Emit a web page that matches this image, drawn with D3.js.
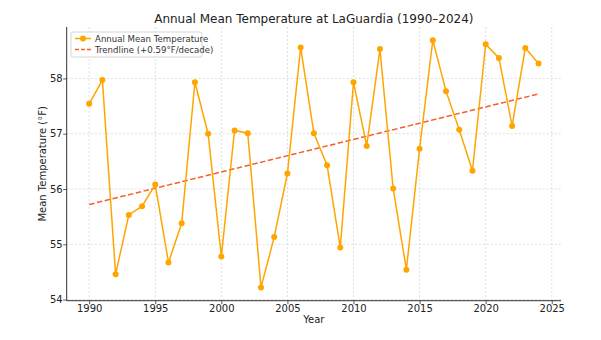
<!DOCTYPE html>
<html><head><meta charset="utf-8">
<script src="https://cdn.jsdelivr.net/npm/d3@7/dist/d3.min.js"></script>
<style>body{margin:0;background:#fff}svg{display:block}text{font-family:"DejaVu Sans",sans-serif}</style>
</head><body><svg id="c" width="601" height="340"></svg>
<script>
const years = d3.range(1990, 2025);
const temps = [57.54,57.97,54.46,55.53,55.69,56.08,54.67,55.38,57.93,57.00,
               54.78,57.06,57.01,54.22,55.13,56.28,58.56,57.01,56.43,54.94,
               57.93,56.78,58.53,56.01,54.54,56.73,58.69,57.77,57.07,56.33,
               58.62,58.37,57.14,58.55,58.27];
const trendStart = 55.72, trendEnd = 57.72;
const xTicks = [1990,1995,2000,2005,2010,2015,2020,2025];
const yTicks = [54,55,56,57,58];
const title = "Annual Mean Temperature at LaGuardia (1990–2024)";
const xLabel = "Year", yLabel = "Mean Temperature (°F)";
const legendLabels = ["Annual Mean Temperature","Trendline (+0.59°F/decade)"];

const svg = d3.select("#c");
const L=66.7, R=561, T=27, B=300.7;
const x = d3.scaleLinear().domain([1988.3,2025.7]).range([L,R]);
const y = d3.scaleLinear().domain([53.98,58.93]).range([B,T]);
const lineC="#ffa500", trendC="#f5602a";

const g = svg.append("g");
// grid
g.selectAll(".gx").data(xTicks).join("line").attr("x1",d=>x(d)).attr("x2",d=>x(d)).attr("y1",T).attr("y2",B)
 .attr("stroke","#d6d6d6").attr("stroke-width",0.8).attr("stroke-dasharray","2,2");
g.selectAll(".gy").data(yTicks).join("line").attr("y1",d=>y(d)).attr("y2",d=>y(d)).attr("x1",L).attr("x2",R)
 .attr("stroke","#d6d6d6").attr("stroke-width",0.8).attr("stroke-dasharray","2,2");

// axes
const xa = svg.append("g").attr("transform",`translate(0,${B})`).call(d3.axisBottom(x).tickValues(xTicks).tickFormat(d3.format("d")).tickSize(3.5).tickPadding(0.5));
const ya = svg.append("g").attr("transform",`translate(${L},0)`).call(d3.axisLeft(y).tickValues(yTicks).tickFormat(d3.format("d")).tickSize(3.5).tickPadding(0.5));
[xa,ya].forEach(a=>{a.select(".domain").remove();a.selectAll("line").attr("stroke","#333").attr("stroke-width",0.8);
 a.selectAll("text").attr("font-size","10px").attr("fill","#222").attr("font-family","DejaVu Sans");});
svg.append("line").attr("x1",L).attr("x2",R).attr("y1",B).attr("y2",B).attr("stroke","#333").attr("stroke-width",1);
svg.append("line").attr("x1",L).attr("x2",L).attr("y1",T).attr("y2",B).attr("stroke","#333").attr("stroke-width",1);

// trend
svg.append("line").attr("x1",x(1990)).attr("x2",x(2024)).attr("y1",y(trendStart)).attr("y2",y(trendEnd))
 .attr("stroke",trendC).attr("stroke-width",1.5).attr("stroke-dasharray","5.5,2.5");
// data line
const data = years.map((yr,i)=>({yr,v:temps[i]}));
svg.append("path").datum(data).attr("d",d3.line().x(d=>x(d.yr)).y(d=>y(d.v)))
 .attr("fill","none").attr("stroke",lineC).attr("stroke-width",1.5);
svg.selectAll(".pt").data(data).join("circle").attr("cx",d=>x(d.yr)).attr("cy",d=>y(d.v)).attr("r",3).attr("fill",lineC);

// title & labels
svg.append("text").attr("x",(L+R)/2).attr("y",23.3).attr("text-anchor","middle").attr("font-size","12px").attr("fill","#222").text(title);
svg.append("text").attr("x",(L+R)/2).attr("y",323).attr("text-anchor","middle").attr("font-size","10px").attr("fill","#222").text(xLabel);
svg.append("text").attr("transform",`translate(46,${(T+B)/2}) rotate(-90)`).attr("text-anchor","middle").attr("font-size","10px").attr("fill","#222").text(yLabel);

// legend
const lg = svg.append("g").attr("transform","translate(71,32)");
lg.append("rect").attr("width",131).attr("height",25).attr("rx",2).attr("fill","#fff").attr("fill-opacity",0.8).attr("stroke","#ccc").attr("stroke-width",0.8);
lg.append("line").attr("x1",4).attr("x2",20).attr("y1",6.5).attr("y2",6.5).attr("stroke",lineC).attr("stroke-width",1.5);
lg.append("circle").attr("cx",12).attr("cy",6.5).attr("r",3).attr("fill",lineC);
lg.append("line").attr("x1",4).attr("x2",20).attr("y1",17.5).attr("y2",17.5).attr("stroke",trendC).attr("stroke-width",1.5).attr("stroke-dasharray","4,2");
lg.selectAll(".lt").data(legendLabels).join("text").attr("x",24).attr("y",(d,i)=>9.5+i*11).attr("font-size","8.6px").attr("fill","#333").text(d=>d);
</script></body></html>
